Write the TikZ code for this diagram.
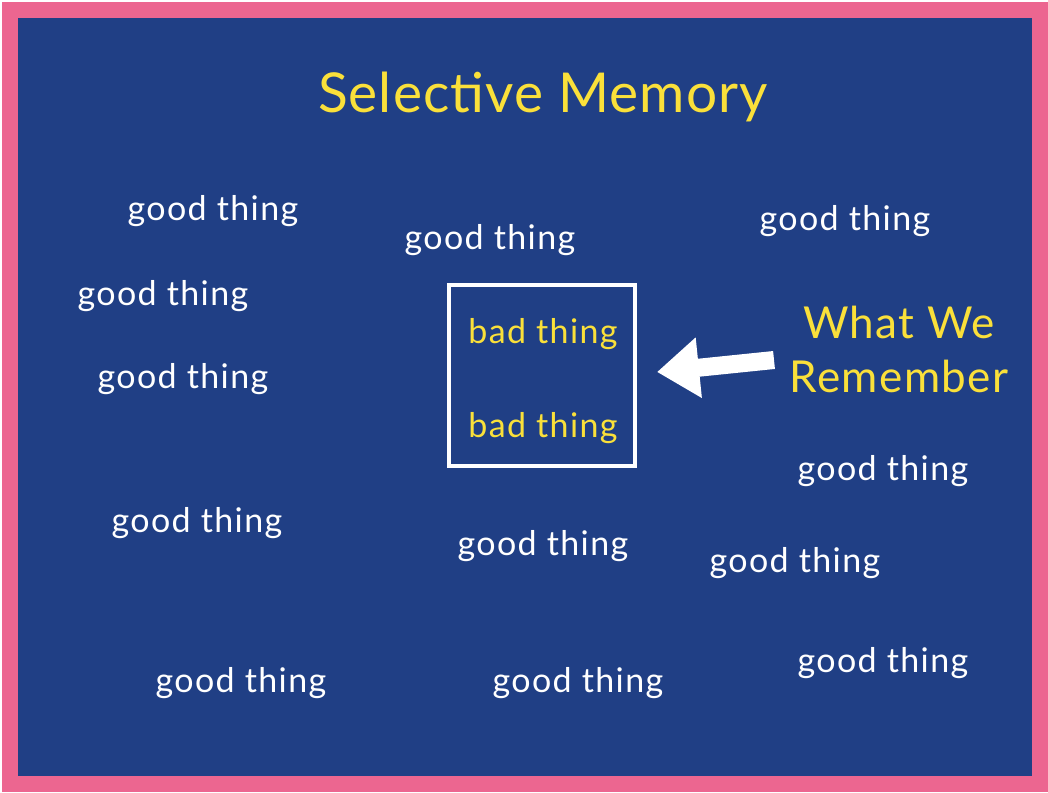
\documentclass[tikz,border=0pt]{standalone}
\usepackage{fontspec}
\setmainfont{Lato}
\usetikzlibrary{arrows.meta}
\definecolor{frame}{HTML}{EC6690}
\definecolor{navy}{HTML}{203F85}
\definecolor{gold}{HTML}{FAE03A}

\begin{document}
\begin{tikzpicture}[x=1pt,y=-1pt,
  good/.style={text=white,anchor=base,inner sep=0pt,
    font=\fontsize{34}{40}\selectfont\addfontfeatures{LetterSpace=4}},
  bad/.style={good,text=gold},
  big/.style={text=gold,anchor=base,inner sep=0pt,
    font=\fontsize{44}{50}\selectfont\addfontfeatures{LetterSpace=3}}]
  % frame and background
  \fill[white] (0,0) rectangle (1048,792);
  \fill[frame] (2,2) rectangle (1048,792);
  \fill[navy] (18,18) rectangle (1032,776);
  \node[big,font=\fontsize{55}{60}\selectfont\addfontfeatures{LetterSpace=2}] (title) at (543,112) {Selective Memory};
  % good things
  \node[good] (g1) at (213,220) {good thing};
  \node[good] (g2) at (490,249) {good thing};
  \node[good] (g3) at (845,230) {good thing};
  \node[good] (g4) at (163,305) {good thing};
  \node[good] (g5) at (183,388) {good thing};
  \node[good] (g6) at (197,532) {good thing};
  \node[good] (g7) at (543,555) {good thing};
  \node[good] (g8) at (883,480) {good thing};
  \node[good] (g9) at (795,572) {good thing};
  \node[good] (g10) at (241,692) {good thing};
  \node[good] (g11) at (578,692) {good thing};
  \node[good] (g12) at (883,672) {good thing};
  % what we remember
  \draw[white,line width=4pt] (449,285) rectangle (635,466);
  \node[bad] (b1) at (543,343) {bad thing};
  \node[bad] (b2) at (543,437) {bad thing};
  \node[big] (what) at (899,338) {What We};
  \node[big] (rem) at (899,392) {Remember};
  \coordinate (tail) at (774,360);
  \coordinate (tip) at (657,372);
  \draw[white,line width=18pt,-{Triangle[length=42pt,width=58pt]}] (tail) -- (tip);
\end{tikzpicture}
\end{document}
